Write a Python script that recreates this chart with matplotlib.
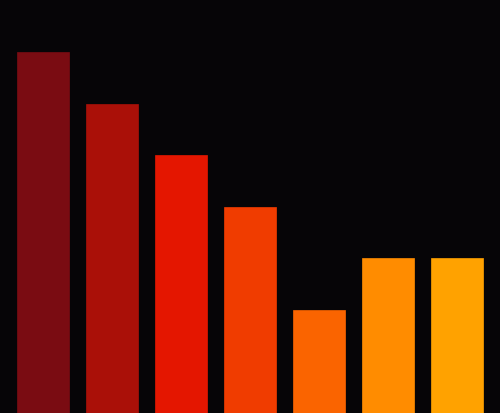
import matplotlib
matplotlib.use('Agg')
import matplotlib.pyplot as plt
import numpy as np

# valores
valores = [7, 6, 5, 4, 2, 3, 3]
cores = ['#7a0c12', '#aa1008', '#e41600', '#f03c00', '#fa6400', '#ff8c00', '#ffa200']
fundo = '#060507'

fig = plt.figure(figsize=(5.0, 4.14), dpi=100)
fig.patch.set_facecolor(fundo)
ax = fig.add_axes([0, 0, 1, 1])
ax.set_facecolor(fundo)

x = np.arange(len(valores))
ax.bar(x, valores, width=0.745, color=cores,
       edgecolor=cores, linewidth=0.5)

ax.set_xlim(-0.623, len(valores) - 1 + 0.623)
ax.set_ylim(0, 8.03)
ax.axis('off')

plt.savefig('out.png', dpi=100, facecolor=fundo)
plt.close(fig)
